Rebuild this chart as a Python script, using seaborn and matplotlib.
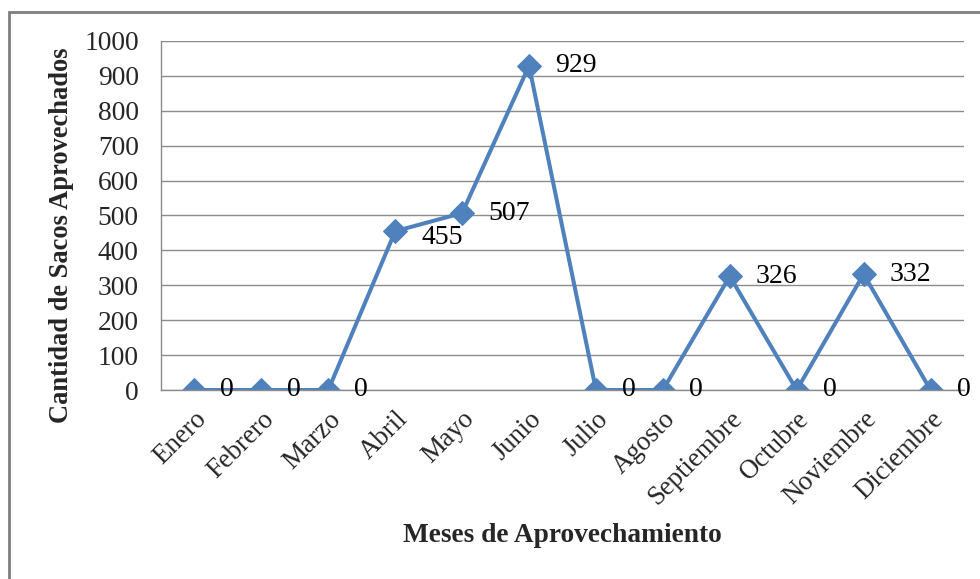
import matplotlib
matplotlib.use("Agg")
import matplotlib.pyplot as plt
import seaborn as sns
import pandas as pd
from matplotlib.patches import Rectangle

months = ["Enero", "Febrero", "Marzo", "Abril", "Mayo", "Junio", "Julio",
          "Agosto", "Septiembre", "Octubre", "Noviembre", "Diciembre"]
values = [0, 0, 0, 455, 507, 929, 0, 0, 326, 0, 332, 0]
yticks = [0, 100, 200, 300, 400, 500, 600, 700, 800, 900, 1000]
xlabel = "Meses de Aprovechamiento"
ylabel = "Cantidad de Sacos Aprovechados"

sns.set_theme(style="white")
plt.rcParams["font.family"] = ["Liberation Serif", "DejaVu Serif"]

W, H = 980, 579
fig = plt.figure(figsize=(W / 100, H / 100), dpi=100)
ax = fig.add_axes([161 / W, 1 - 390 / H, (964 - 161) / W, (390 - 41) / H])

df = pd.DataFrame({"mes": months, "sacos": values})
blue = "#4F81BD"
sns.lineplot(data=df, x="mes", y="sacos", sort=False, ax=ax, color=blue,
             linewidth=2.9, marker="D", markersize=12.5, markeredgecolor=blue)

ax.set_xlim(-0.5, len(months) - 0.5)
ax.set_ylim(0, 1000)
ax.set_yticks(yticks)
ax.set_yticklabels([str(t) for t in yticks], fontsize=19.8)
ax.set_xticks(range(len(months)))
ax.set_xticklabels(months, fontsize=19.3, rotation=45, ha="right",
                   rotation_mode="anchor")
ax.tick_params(axis="y", length=0, pad=16)
ax.tick_params(axis="x", length=0, pad=12)

grid_c = "#8c8c8c"
ax.yaxis.grid(True, color=grid_c, linewidth=1)
ax.set_axisbelow(True)
for s in ["top", "right"]:
    ax.spines[s].set_visible(False)
for s in ["left", "bottom"]:
    ax.spines[s].set_color(grid_c)
    ax.spines[s].set_linewidth(1)

ax.set_xlabel(xlabel, fontsize=19.7, fontweight="bold")
ax.set_ylabel(ylabel, fontsize=19.1, fontweight="bold")
ax.xaxis.set_label_coords(0.5, (390 - 536) / (390 - 41))
ax.yaxis.set_label_coords((61 - 161) / (964 - 161), (390 - 235) / (390 - 41))
ax.xaxis.label.set_va("center")
ax.yaxis.label.set_va("center")

for i, v in enumerate(values):
    dy = -6 if v == 455 else 0
    ax.annotate(str(v), (i, v), xytext=(26, dy), textcoords="offset pixels",
                ha="left", va="center", fontsize=20, color="black",
                annotation_clip=False)

fig.patches.append(Rectangle((9 / W, -0.05), 1.2, 1 - 12 / H + 0.05,
                             transform=fig.transFigure, fill=False,
                             edgecolor="#7f7f7f", linewidth=2))

fig.savefig("out.png", dpi=100, facecolor="white")
